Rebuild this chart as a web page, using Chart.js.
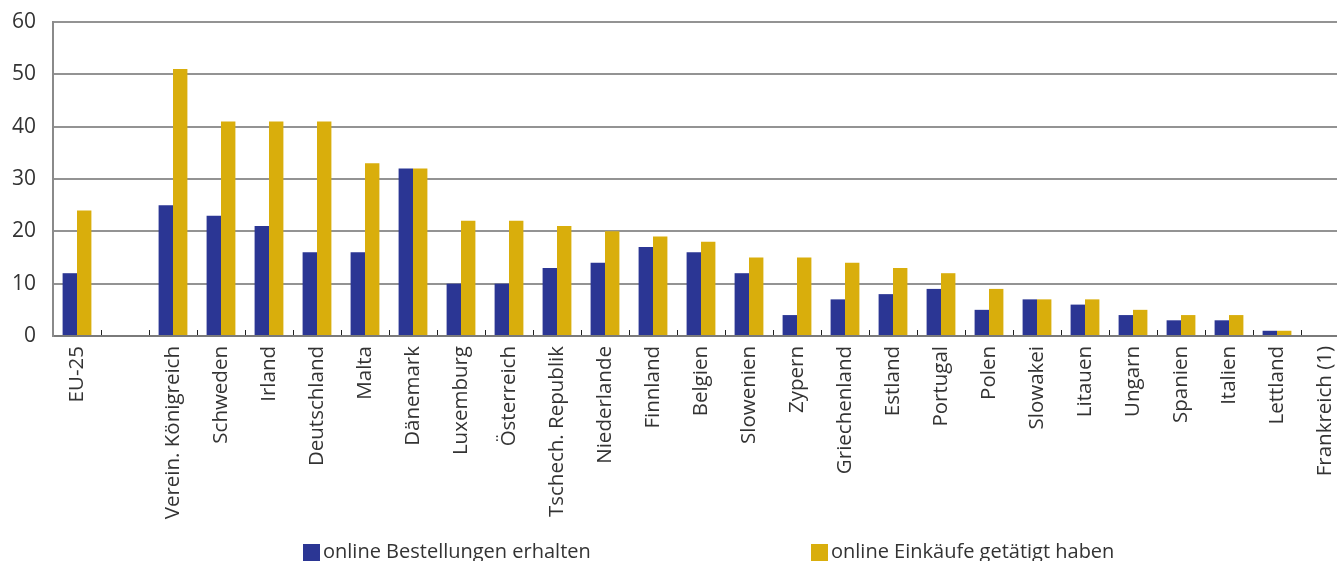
<!DOCTYPE html>
<html lang="de">
<head>
<meta charset="utf-8">
<title>Online-Bestellungen und Online-Einkäufe</title>
<script src="https://cdn.jsdelivr.net/npm/chart.js@4.4.1/dist/chart.umd.min.js"></script>
<style>
  html, body { margin: 0; padding: 0; background: #ffffff; overflow: hidden; width: 1337px; height: 561px; }
  #wrap { position: absolute; left: 0; top: 0; width: 1350px; height: 575px; }
</style>
</head>
<body>
<div id="wrap"><canvas id="chart"></canvas></div>
<script>
// Länder (leere Kategorie trennt EU-25 von den Mitgliedstaaten)
const categories = [
  'EU-25', '', 'Verein. Königreich', 'Schweden', 'Irland', 'Deutschland', 'Malta',
  'Dänemark', 'Luxemburg', 'Österreich', 'Tschech. Republik', 'Niederlande',
  'Finnland', 'Belgien', 'Slowenien', 'Zypern', 'Griechenland', 'Estland',
  'Portugal', 'Polen', 'Slowakei', 'Litauen', 'Ungarn', 'Spanien', 'Italien',
  'Lettland', 'Frankreich (1)'
];

// Anteil in %
const ordersReceived = [12, null, 25, 23, 21, 16, 16, 32, 10, 10, 13, 14, 17, 16, 12, 4, 7, 8, 9, 5, 7, 6, 4, 3, 3, 1, null];
const purchasesMade  = [24, null, 51, 41, 41, 41, 33, 32, 22, 22, 21, 20, 19, 18, 15, 15, 14, 13, 12, 9, 7, 7, 5, 4, 4, 1, null];

const seriesNames  = ['online Bestellungen erhalten', 'online Einkäufe getätigt haben'];
const seriesColors = ['#2b3694', '#d9ae0c'];

const yMin = 0, yMax = 60, yStep = 10;

const FONT = '"Open Sans", "Noto Sans", sans-serif';
const TEXT_COLOR = '#333333';

// Legende unterhalb der Achsenbeschriftung, Einträge weit auseinander
const bottomLegend = {
  id: 'bottomLegend',
  afterDraw(chart, args, opts) {
    const ctx = chart.ctx;
    ctx.save();
    ctx.font = opts.fontSize + 'px ' + FONT;
    ctx.textBaseline = 'alphabetic';
    ctx.textAlign = 'left';
    chart.data.datasets.forEach((ds, i) => {
      const x = opts.x[i];
      ctx.fillStyle = ds.backgroundColor;
      ctx.fillRect(x, opts.boxTop, opts.boxSize, opts.boxSize);
      ctx.fillStyle = TEXT_COLOR;
      ctx.fillText(ds.label, x + opts.boxSize + opts.gap, opts.baseline);
    });
    ctx.restore();
  }
};

new Chart(document.getElementById('chart'), {
  type: 'bar',
  data: {
    labels: categories,
    datasets: [
      { label: seriesNames[0], data: ordersReceived, backgroundColor: seriesColors[0], borderWidth: 0 },
      { label: seriesNames[1], data: purchasesMade,  backgroundColor: seriesColors[1], borderWidth: 0 }
    ]
  },
  plugins: [bottomLegend],
  options: {
    responsive: true,
    maintainAspectRatio: false,
    animation: false,
    layout: { padding: { top: 22, right: 1, bottom: 0, left: 0 } },
    datasets: { bar: { categoryPercentage: 0.6, barPercentage: 1.0 } },
    plugins: {
      legend: { display: false },
      tooltip: { enabled: false },
      bottomLegend: { x: [303, 811], boxTop: 544, boxSize: 17, gap: 3, baseline: 558, fontSize: 20 }
    },
    scales: {
      x: {
        offset: true,
        grid: {
          offset: true,
          drawOnChartArea: false,
          drawTicks: true,
          tickLength: -6,
          tickColor: '#222222',
          tickWidth: 1
        },
        border: { display: true, color: '#7a7a7a', width: 2 },
        ticks: {
          autoSkip: false,
          minRotation: 90,
          maxRotation: 90,
          padding: 16,
          color: TEXT_COLOR,
          font: { family: FONT, size: 20.5 }
        },
        afterFit(scale) {
          scale.height = 239;
          scale.paddingLeft = 0;
          scale.paddingRight = 0;
        }
      },
      y: {
        min: yMin,
        max: yMax,
        grid: { color: '#939393', lineWidth: 2, drawTicks: false },
        border: { display: true, color: '#8a8a8a', width: 2 },
        ticks: {
          stepSize: yStep,
          padding: 17,
          color: TEXT_COLOR,
          font: { family: FONT, size: 21 }
        },
        afterFit(scale) {
          scale.width = 53;
          scale.paddingTop = 0;
          scale.paddingBottom = 0;
        }
      }
    }
  }
});
</script>
</body>
</html>
